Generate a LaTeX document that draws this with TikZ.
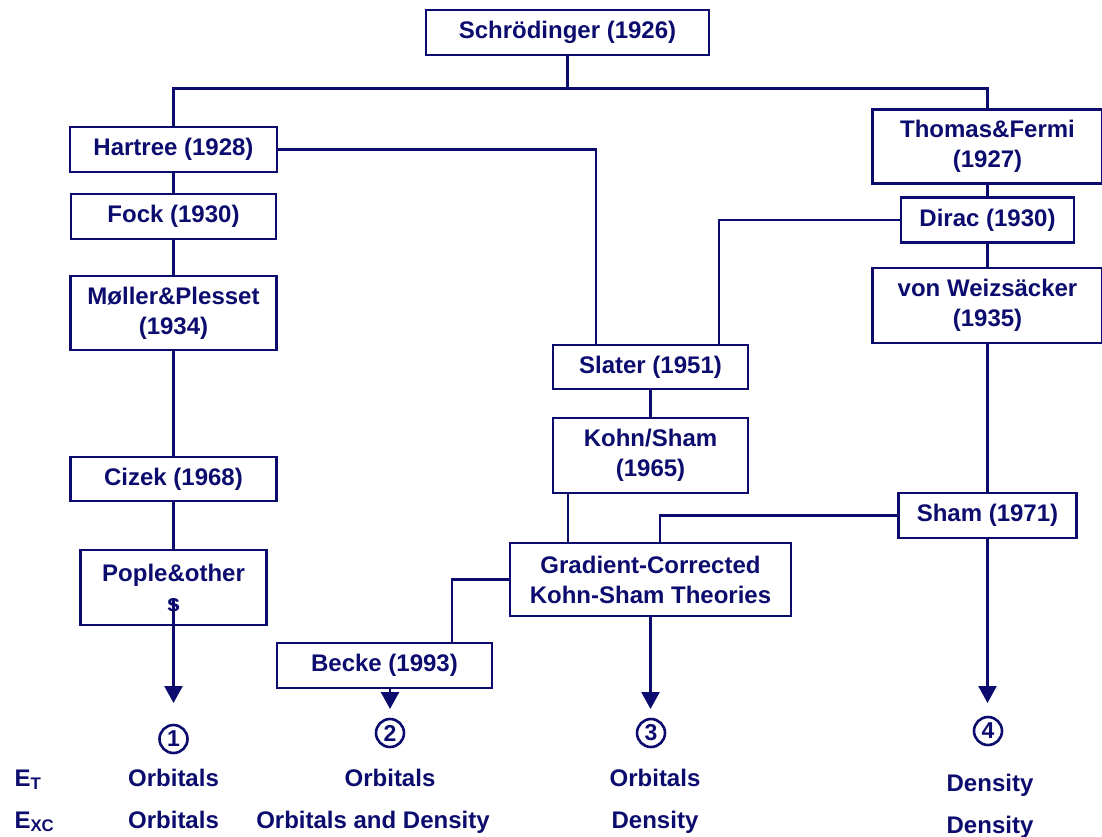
\documentclass[tikz,border=0pt]{standalone}
\usepackage{fontspec}
\setmainfont{Liberation Sans}
\usepackage{xcolor}
\usetikzlibrary{arrows.meta, positioning}
\definecolor{navy}{RGB}{12,12,110}

\tikzset{
  box/.style={draw, line width=2.6pt, inner sep=0pt, align=center, minimum height=45pt},
  tallbox/.style={box, minimum height=74pt},
  conn/.style={line width=2.6pt},
  arr/.style={line width=2.6pt, -{Triangle[length=17pt,width=18pt]}},
  num/.style={circle, draw, line width=2.6pt, minimum size=28pt, inner sep=0pt, font=\fontsize{23}{23}\selectfont\bfseries},
}

\begin{document}
\begin{tikzpicture}[x=1pt, y=-1pt, color=navy, font=\fontsize{24}{30}\selectfont\bfseries]
        \useasboundingbox (0,0) rectangle (1102,836);

        % root
        \node[box, minimum width=283pt] (schr) at (567.5,32.5) {Schrödinger (1926)};

        % wave function branch
        \node[box, minimum width=207pt] (hart) at (173.5,149.5) {Hartree (1928)};
        \node[box, minimum width=205pt] (fock) at (173.5,216.5) {Fock (1930)};
        \node[tallbox, minimum width=206pt] (moll) at (173.5,313) {Møller\&Plesset\\(1934)};
        \node[box, minimum width=206pt, minimum height=44pt] (ciz) at (173.5,479) {Cizek (1968)};
        \node[tallbox, minimum width=186pt, minimum height=75pt] (pop) at (173.5,587.5) {Pople\&other\\s};

        % density branch
        \node[tallbox, minimum width=230pt] (tf) at (987.5,146.5) {Thomas\&Fermi\\(1927)};
        \node[box, minimum width=173pt] (dirac) at (987.5,220) {Dirac (1930)};
        \node[tallbox, minimum width=230pt, minimum height=75pt] (vw) at (987.5,305.5) {von Weizsäcker\\(1935)};
        \node[box, minimum width=178pt] (sham) at (987.5,515.5) {Sham (1971)};

        % Kohn-Sham branch
        \node[box, minimum width=195pt, minimum height=44pt] (slat) at (650.5,367) {Slater (1951)};
        \node[tallbox, minimum width=195pt, minimum height=75pt] (ks) at (650.5,455.5) {Kohn/Sham\\(1965)};
        \node[tallbox, minimum width=281pt, minimum height=73pt] (grad) at (650.5,579.5) {Gradient-Corrected\\Kohn-Sham Theories};
        \node[box, minimum width=215pt] (becke) at (384.5,665.5) {Becke (1993)};

        % tree lines
        \draw[conn] (schr.south) -- ++(0,32) -| (hart.north);
        \draw[conn] (schr.south) -- ++(0,32) -| (tf.north);
        \draw[conn] (hart.south) -- (fock.north);
        \draw[conn] (fock.south) -- (moll.north);
        \draw[conn] (moll.south) -- (ciz.north);
        \draw[conn] (ciz.south) -- (pop.north);
        \draw[conn] (tf.south) -- (dirac.north);
        \draw[conn] (dirac.south) -- (vw.north);
        \draw[conn] (vw.south) -- (sham.north);
        \draw[conn] (hart.east) -| ([xshift=-54.5pt]slat.north);
        \draw[conn] (dirac.west) -| ([xshift=68.5pt]slat.north);
        \draw[conn] (slat.south) -- (ks.north);
        \draw[conn] ([xshift=-82.5pt]ks.south) -- ([xshift=-82.5pt]grad.north);
        \draw[conn] (sham.west) -| ([xshift=9.5pt]grad.north);
        \draw[conn] (grad.west) -| ([xshift=67.5pt]becke.north);

        % arrows down to the four kinds
        \coordinate (t1) at (173.5,703);
        \coordinate (t2) at (390,709);
        \coordinate (t3) at (650.5,709);
        \coordinate (t4) at (987.5,703);
        \draw[arr] ([yshift=-10pt]pop.center) -- (t1);
        \draw[arr] ([xshift=5.5pt]becke.south) -- (t2);
        \draw[arr] (grad.south) -- (t3);
        \draw[arr] (sham.south) -- (t4);

        \node[num] (n1) at (173.5,739) {1};
        \node[num] (n2) at (390,733) {2};
        \node[num] (n3) at (651,733) {3};
        \node[num] (n4) at (988,731) {4};

        % table below
        \node[anchor=base west] (et) at (11,786) {E\textsubscript{T}};
        \node[anchor=base west] (exc) at (11,828) {E\textsubscript{XC}};
        \node[anchor=base] (et1) at (173.5,786) {Orbitals};
        \node[anchor=base] (exc1) at (173.5,828) {Orbitals};
        \node[anchor=base] (et2) at (390,786) {Orbitals};
        \node[anchor=base] (exc2) at (373,828) {Orbitals and Density};
        \node[anchor=base] (et3) at (655,786) {Orbitals};
        \node[anchor=base] (exc3) at (655,828) {Density};
        \node[anchor=base] (et4) at (990,791) {Density};
        \node[anchor=base] (exc4) at (990,833) {Density};
    \end{tikzpicture}
\end{document}
